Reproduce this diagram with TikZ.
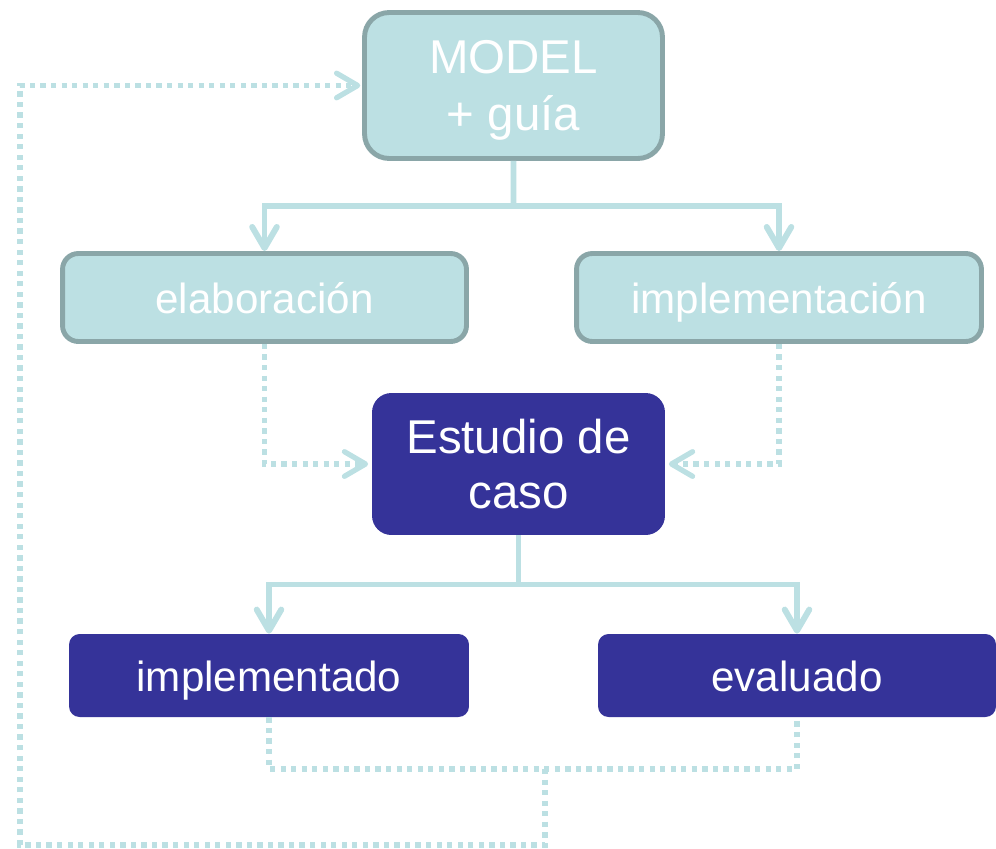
\documentclass[tikz,border=0pt]{standalone}
\usepackage{fontspec}
\setmainfont{Liberation Sans}
\usetikzlibrary{arrows.meta,calc}
\definecolor{lightteal}{HTML}{BCE0E3}
\definecolor{greyteal}{HTML}{8AA6A8}
\definecolor{deepblue}{HTML}{353399}

\begin{document}
\begin{tikzpicture}[x=0.02cm,y=-0.02cm,
    lightbox/.style={draw=greyteal,line width=2.8pt,fill=lightteal,text=white,align=center,inner sep=0pt},
    darkbox/.style={fill=deepblue,text=white,align=center,inner sep=0pt},
    oneline/.style={font=\fontsize{24}{28}\selectfont,text height=20pt,text depth=2pt},
    link/.style={lightteal,line width=3.4pt},
    dotlink/.style={lightteal,line width=3pt,dash pattern=on 3pt off 3pt},
    >={Straight Barb[length=12pt,width=14pt,round]}]
      \useasboundingbox (0,0) rectangle (996,848);
      \node[lightbox,rounded corners=14pt,minimum width=5.96cm,minimum height=2.92cm,font=\fontsize{27}{32}\selectfont,text depth=0pt] (model) at (513.5,85.5) {MODEL\\+ guía};
      \node[lightbox,oneline,rounded corners=9pt,minimum width=8.08cm,minimum height=1.76cm] (elab) at (264.5,297.5) {elaboración};
      \node[lightbox,oneline,rounded corners=9pt,minimum width=8.1cm,minimum height=1.76cm] (impl) at (779,297.5) {implementación};
      \node[darkbox,rounded corners=11pt,minimum width=5.86cm,minimum height=2.84cm,font=\fontsize{27}{31}\selectfont] (estudio) at (518.5,464) {Estudio de\\caso};
      \node[darkbox,oneline,rounded corners=6pt,minimum width=8cm,minimum height=1.66cm] (implementado) at (269,675.5) {implementado};
      \node[darkbox,oneline,rounded corners=6pt,minimum width=7.96cm,minimum height=1.66cm] (evaluado) at (797,675.5) {evaluado};
      \coordinate (ma) at ($(model.south)!.5!(model.south|-elab.north)$);
      \draw[link] (model.south) -- (ma);
      \draw[link,->] (ma) -| (elab.north);
      \draw[link,->] (ma) -| (impl.north);
      \draw[dotlink,->,shorten >=2pt] (elab.south) |- (estudio.west);
      \draw[dotlink,->,shorten >=2pt] (impl.south) |- (estudio.east);
      \coordinate (ea) at ($(estudio.south)!.5!(estudio.south|-implementado.north)$);
      \draw[link] (estudio.south) -- (ea);
      \draw[link,->] (ea) -| (implementado.north);
      \draw[link,->] (ea) -| (evaluado.north);
      \coordinate (fb) at (545,769);
      \coordinate (fl) at (20,845);
      \draw[dotlink] (implementado.south) |- (fb) -| (evaluado.south);
      \draw[dotlink,->,shorten >=1pt] (fb) |- (fl) |- (model.west);
    \end{tikzpicture}
\end{document}
